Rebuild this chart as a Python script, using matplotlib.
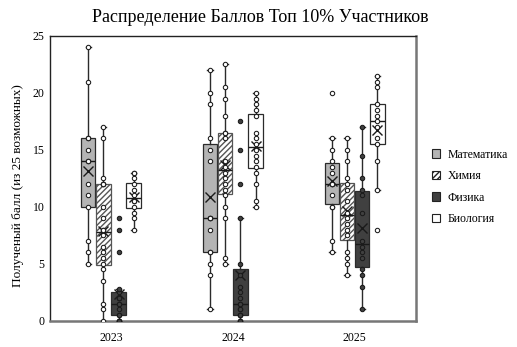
import matplotlib
matplotlib.use("Agg")
import matplotlib.pyplot as plt
from matplotlib.patches import Patch
import numpy as np

plt.rcParams['font.family'] = ['Liberation Serif', 'DejaVu Serif']

years = ['2023', '2024', '2025']
subjects = ['Математика', 'Химия', 'Физика', 'Биология']

math_scores = [
    [5, 6, 7, 10, 11, 12, 14, 14, 15, 16, 16, 21, 24],
    [1, 4, 5, 6, 6, 8, 9, 9, 9, 14, 15, 16, 19, 20, 22],
    [6, 7, 10, 10, 11, 12, 12, 12, 13, 13.5, 14, 15, 16, 20],
]
chem_scores = [
    [0, 1, 1.5, 3.5, 4.5, 5, 5.5, 6, 6.5, 7.5, 8, 8, 9, 10, 12, 12, 12, 12.5, 16, 17],
    [5, 5.5, 9, 10, 11, 11.5, 12, 12.5, 13, 13.5, 14, 16, 16.5, 16.5, 18, 19.5, 20.5, 22.5],
    [4, 5, 5.5, 6, 7.5, 8, 8.5, 9, 9.5, 10.5, 11.5, 12, 12.5, 14, 15, 16],
]
phys_scores = [
    [0, 0, 0, 0, 0.5, 0.5, 1, 1.5, 1.5, 2, 2, 2, 2.5, 2.8, 6, 8, 9],
    [0, 0, 0, 0.5, 0.5, 0.5, 1, 1, 1.5, 1.5, 2, 2.5, 3, 4, 5, 9, 12, 15, 17.5],
    [1, 3, 4, 4.5, 5.5, 6, 6.5, 7, 9.5, 11, 11.5, 12.5, 14.5, 17],
]
bio_scores = [
    [8, 9, 9.5, 10, 10.5, 10.5, 11, 11.5, 12, 12.5, 13, 13],
    [10, 10.5, 12, 13, 13.5, 14, 14.5, 15, 15.5, 16, 16.5, 18, 18.5, 19, 19.5, 20],
    [8, 11.5, 14, 15.5, 16, 17, 17.5, 18, 18.5, 19, 20.5, 21, 21.5],
]

series = [math_scores, chem_scores, phys_scores, bio_scores]
face_colors = ['#b4b4b4', '#ffffff', '#404040', '#ffffff']
hatches = [None, '//////', None, None]
point_fill = ['#ffffff', '#ffffff', '#404040', '#ffffff']
edge = '#2b2b2b'

fig = plt.figure(figsize=(5.17, 3.47), dpi=100)
ax = fig.add_axes([50 / 517, 1 - 320.7 / 347, 365.7 / 517, 284.7 / 347])

d = 0.124
width = 0.118
group_x = np.arange(len(years))

for i, data in enumerate(series):
    pos = group_x + (i - 1.5) * d
    bp = ax.boxplot(data, positions=pos, widths=width, patch_artist=True,
                    showmeans=True, showfliers=False, whis=1.5,
                    capwidths=0.045, manage_ticks=False,
                    boxprops=dict(facecolor=face_colors[i], edgecolor=edge, linewidth=0.9),
                    medianprops=dict(color='#1a1a1a', linewidth=1.0),
                    whiskerprops=dict(color=edge, linewidth=1.0),
                    capprops=dict(color=edge, linewidth=1.0),
                    meanprops=dict(marker='x', markeredgecolor='#1a1a1a', markersize=7,
                                   markeredgewidth=1.0))
    if hatches[i]:
        for b in bp['boxes']:
            b.set_hatch(hatches[i])
            b.set_edgecolor('#555555')
    for j, vals in enumerate(data):
        ax.scatter(np.full(len(vals), pos[j]), vals, s=10, facecolor=point_fill[i],
                   edgecolor='#1a1a1a', linewidth=0.75, zorder=4)

ax.set_xlim(-0.5, 2.5)
ax.set_ylim(0, 25)
ax.set_xticks(group_x)
ax.set_xticklabels(years, fontsize=8.5)
ax.set_yticks([0, 5, 10, 15, 20, 25])
ax.tick_params(axis='both', length=0, labelsize=8.5)
ax.tick_params(axis='x', pad=8)
ax.tick_params(axis='y', pad=4)
for s in ['left', 'top']:
    ax.spines[s].set_color('#222222')
    ax.spines[s].set_linewidth(1.0)
for s in ['right', 'bottom']:
    ax.spines[s].set_color('#777777')
    ax.spines[s].set_linewidth(1.8)

ax.set_ylabel('Полученый балл (из 25 возможных)', fontsize=9.5)
ax.yaxis.set_label_coords(-0.072, 0.475)
fig.text(0.5 * (91 + 430) / 517, 1 - 17 / 347, 'Распределение Баллов Топ 10% Участников',
         ha='center', va='center', fontsize=13)

handles = [Patch(facecolor=face_colors[k], edgecolor='#222222', hatch=hatches[k],
                 linewidth=0.8) for k in range(4)]
fig.legend(handles, subjects, loc='upper left', bbox_to_anchor=(421 / 517, 1 - 138 / 347),
           frameon=False, fontsize=8.5, handlelength=0.75, handleheight=0.75,
           labelspacing=0.8, handletextpad=0.6)

fig.savefig('out.png', dpi=100)
